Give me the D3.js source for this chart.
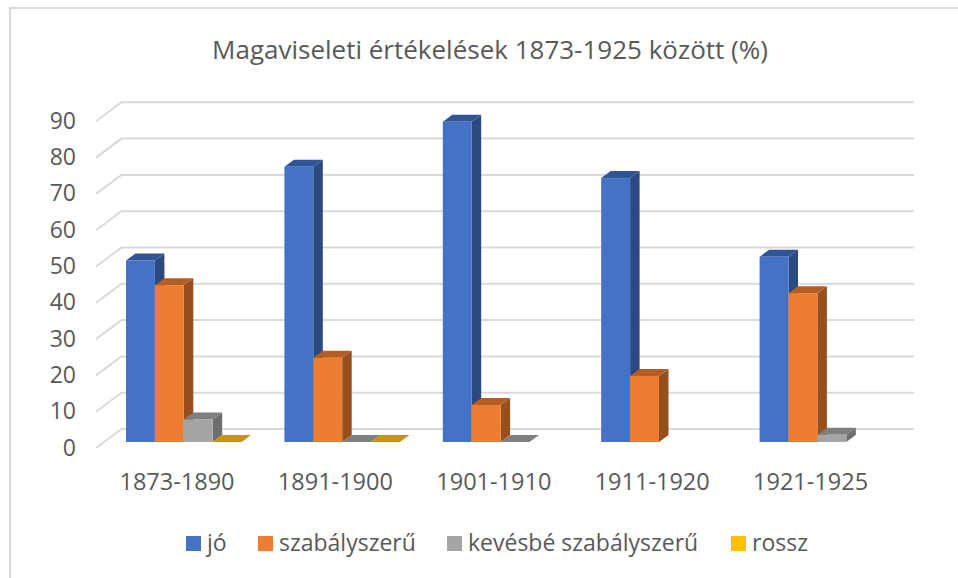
<!DOCTYPE html>
<html>
<head>
<meta charset="utf-8">
<script src="https://cdn.jsdelivr.net/npm/d3@7"></script>
<style>
  html, body { margin: 0; padding: 0; background: #fff; }
  svg { display: block; }
  text { font-family: "Open Sans", sans-serif; fill: #595959; }
</style>
</head>
<body>
<svg id="chart" width="958" height="578"></svg>
<script>
const periods = ["1873-1890", "1891-1900", "1901-1910", "1911-1920", "1921-1925"];
const seriesNames = ["jó", "szabályszerű", "kevésbé szabályszerű", "rossz"];
const jo = [50, 75.8, 88.2, 72.7, 51];
const szabalyszeru = [43.2, 23.2, 10.2, 18.2, 41];
const kevesbe = [6.2, 0, 0, null, 2];
const rossz = [0, 0, null, null, null];
const seriesValues = [jo, szabalyszeru, kevesbe, rossz];
const yTicks = [0, 10, 20, 30, 40, 50, 60, 70, 80, 90];

const front = ["#4472c4", "#ed7d31", "#a5a5a5", "#ffc000"];
const top3d = ["#2f5597", "#b55d23", "#7f7f7f", "#c79700"];
const side = ["#2a4a80", "#97501d", "#6e6e6e", "#a88000"];

const svg = d3.select("#chart");

// chart frame, only top and left are visible in the crop
svg.append("path").attr("d", "M958,8 H10 V578")
  .attr("fill", "none").attr("stroke", "#d9d9d9").attr("stroke-width", 2);

// title
svg.append("text").attr("x", 490).attr("y", 59).attr("text-anchor", "middle")
  .attr("font-size", 26).text("Magaviseleti értékelések 1873-1925 között (%)");

// value scale measured at the front of the bars
const y = d3.scaleLinear().domain([0, 90]).range([442, 115.3]);
const depthX = 9.5, depthY = 7;
const wallX = 25.5, wallY = 19; // floor depth
const x0 = d3.scaleBand().domain(periods).range([126, 918]);
const x1 = d3.scaleBand().domain(d3.range(4)).range([0, 115.6]);

// gridlines: floor diagonal + back wall
const grid = svg.append("g").attr("fill", "none").attr("stroke", "#d9d9d9").attr("stroke-width", 2);
yTicks.forEach(t => {
  const gy = y(t) + 6;
  grid.append("path").attr("d", `M96,${gy} L${96 + wallX},${gy - wallY} H914`);
});

// axis labels
svg.append("g").selectAll("text").data(yTicks).enter().append("text")
  .attr("x", 76).attr("y", d => y(d) + 13.5).attr("text-anchor", "end").attr("font-size", 23)
  .text(d => d);

svg.append("g").selectAll("text").data(periods).enter().append("text")
  .attr("x", d => x0(d) + 51).attr("y", 490).attr("text-anchor", "middle").attr("font-size", 23.5)
  .text(d => d);

// bars
const bars = svg.append("g");
periods.forEach((p, i) => {
  seriesValues.forEach((vals, s) => {
    const v = vals[i];
    if (v === null) return;
    const xa = x0(p) + x1(s), xb = xa + x1.bandwidth(), yt = y(v), yb = y(0);
    bars.append("path").attr("fill", side[s])
      .attr("d", `M${xb},${yt} L${xb + depthX},${yt - depthY} V${yb - depthY} L${xb},${yb} Z`);
    bars.append("path").attr("fill", top3d[s])
      .attr("d", `M${xa},${yt} L${xa + depthX},${yt - depthY} H${xb + depthX} L${xb},${yt} Z`);
    if (v > 0) bars.append("rect").attr("x", xa).attr("y", yt).attr("width", xb - xa).attr("height", yb - yt)
      .attr("fill", front[s]);
  });
});

// legend
const legendX = [186, 258, 447, 731];
const legend = svg.append("g");
seriesNames.forEach((n, i) => {
  legend.append("rect").attr("x", legendX[i]).attr("y", 536).attr("width", 15).attr("height", 15).attr("fill", front[i]);
  legend.append("text").attr("x", legendX[i] + 21).attr("y", 551).attr("font-size", 23).text(n);
});
</script>
</body>
</html>
